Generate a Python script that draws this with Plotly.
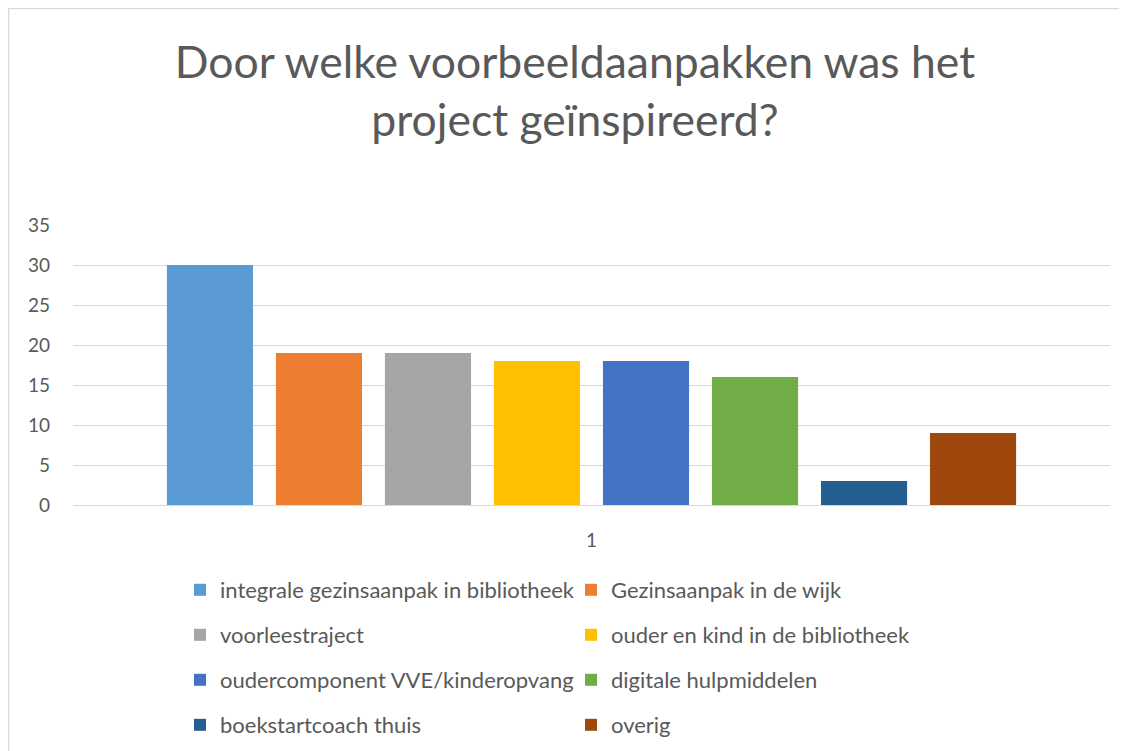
import plotly.graph_objects as go

# ── data ─────────────────────────────────────────────
category = ["1"]
series_names = [
    "integrale gezinsaanpak in bibliotheek",
    "Gezinsaanpak in de wijk",
    "voorleestraject",
    "ouder en kind in de bibliotheek",
    "oudercomponent VVE/kinderopvang",
    "digitale hulpmiddelen",
    "boekstartcoach thuis",
    "overig",
]
series_values = [30, 19, 19, 18, 18, 16, 3, 9]
series_colors = ["#5B9BD5", "#ED7D31", "#A5A5A5", "#FFC000",
                 "#4472C4", "#70AD47", "#255E91", "#9E480E"]
y_ticks = [0, 5, 10, 15, 20, 25, 30, 35]

FONT = "Lato"
TXT = "#595959"

W, H = 1127, 751
OFF = 8                      # page body margin
L, R, T, B = 73 - OFF, 1110 - OFF, 225 - OFF, 505 - OFF   # plot area in figure px


def px_x(x):
    return (x - OFF - L) / (R - L)


def px_y(y):
    return (B - (y - OFF)) / (B - T)


fig = go.Figure()
for i, (name, val, col) in enumerate(zip(series_names, series_values, series_colors)):
    legend_id = "legend" if i < 2 else f"legend{i // 2 + 1}"
    fig.add_trace(go.Bar(
        x=category, y=[val], name=name,
        marker=dict(color=col, line=dict(width=0)),
        legend=legend_id,
    ))

# 4 legend rows, two columns each
row_y = [590, 635, 680, 725]
legends = {}
for r, yy in enumerate(row_y):
    key = "legend" if r == 0 else f"legend{r + 1}"
    legends[key] = dict(
        orientation="h",
        x=px_x(180), xanchor="left",
        y=px_y(yy), yanchor="middle",
        entrywidth=346, entrywidthmode="pixels",
        font=dict(family=FONT, size=22, color=TXT),
        bgcolor="rgba(0,0,0,0)",
        traceorder="normal",
    )

fig.update_layout(
    width=W, height=H,
    margin=dict(l=L, r=W - R, t=T, b=H - B, pad=0),
    paper_bgcolor="white", plot_bgcolor="white",
    barmode="group", bargap=0.159, bargroupgap=0.21,
    font=dict(family=FONT, color=TXT),
    title=dict(
        text="Door welke voorbeeldaanpakken was het<br>project geïnspireerd?",
        x=(575 - OFF) / W, xanchor="center", xref="container",
        y=1 - 70 / H, yanchor="middle", yref="container",
        font=dict(family=FONT, size=44.5, color=TXT),
    ),
    showlegend=True,
    **legends,
)

fig.update_yaxes(
    range=[0, 35], tickvals=y_ticks,
    showgrid=True, gridcolor="#D9D9D9", gridwidth=1,
    zeroline=False, showline=False,
    ticks="", ticklabelstandoff=22,
    tickfont=dict(family=FONT, size=19, color=TXT),
)
fig.update_xaxes(
    showline=True, linecolor="#D9D9D9", linewidth=1,
    ticks="", ticklabelstandoff=18,
    tickfont=dict(family=FONT, size=19, color=TXT),
)

# chart border (Excel chart area)
fig.add_shape(
    type="rect", xref="paper", yref="paper",
    x0=px_x(8.5), x1=px_x(W + 40),
    y0=px_y(H + 40), y1=px_y(8.5),
    line=dict(color="#D9D9D9", width=1.5), fillcolor="rgba(0,0,0,0)",
    layer="below",
)

fig.write_html("out.html")
